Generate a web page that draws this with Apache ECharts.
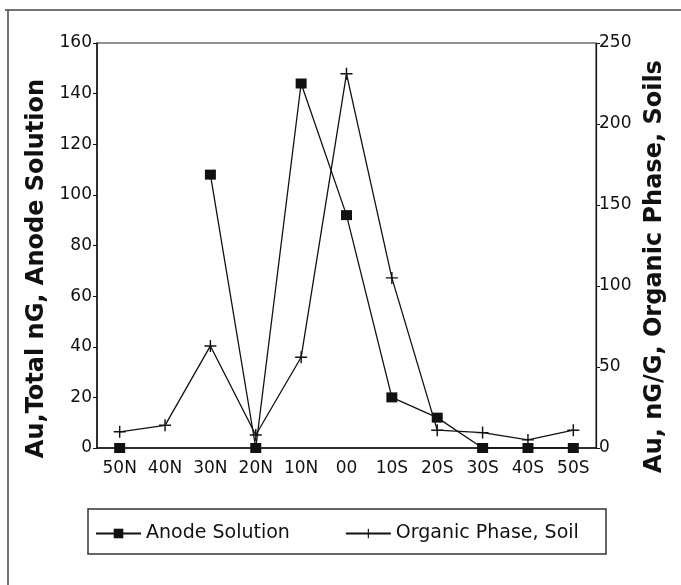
<!DOCTYPE html>
<html>
<head>
<meta charset="utf-8">
<script src="https://cdn.jsdelivr.net/npm/echarts@6/dist/echarts.min.js"></script>
<style>html,body{margin:0;padding:0;background:#fff}#c{width:681px;height:585px}</style>
</head>
<body>
<div id="c"></div>
<script>
const categories = ['50N','40N','30N','20N','10N','00','10S','20S','30S','40S','50S'];
const anodeSolution = [0, null, 108, 0, 144, 92, 20, 12, 0, 0, 0];
const organicPhaseSoil = [10, 14, 63, 8, 56, 231, 105, 11, 9.5, 5, 11];
const leftTicks = {min: 0, max: 160, interval: 20};
const rightTicks = {min: 0, max: 250, interval: 50};
const leftName = 'Au,Total nG, Anode Solution';
const rightName = 'Au, nG/G, Organic Phase, Soils';
const seriesNames = ['Anode Solution', 'Organic Phase, Soil'];

const FONT = '"DejaVu Sans", "Liberation Sans", Arial, sans-serif';
const plus = 'path://M0,4.4 L10,4.4 L10,5.6 L0,5.6 Z M4.4,0 L5.6,0 L5.6,10 L4.4,10 Z';
const chart = echarts.init(document.getElementById('c'), null, {renderer: 'canvas'});
chart.setOption({
  animation: false,
  backgroundColor: '#fff',
  textStyle: {fontFamily: FONT, color: '#111'},
  grid: {left: 97, right: 85, top: 43, bottom: 137, show: true, borderColor: '#222', borderWidth: 1},
  xAxis: {
    type: 'category', data: categories, boundaryGap: true,
    axisLine: {lineStyle: {color: '#111', width: 1.5}},
    axisTick: {alignWithLabel: true, length: 4, lineStyle: {color: '#111'}},
    axisLabel: {color: '#111', fontSize: 17, fontFamily: FONT, margin: 12}
  },
  yAxis: [{
    type: 'value', min: leftTicks.min, max: leftTicks.max, interval: leftTicks.interval,
    name: leftName, nameLocation: 'middle', nameRotate: 90, nameGap: 42,
    nameTextStyle: {fontSize: 24, fontWeight: 'bold', color: '#111', fontFamily: FONT, padding: [0, 46, 0, 0]},
    axisLine: {show: true, lineStyle: {color: '#111', width: 1.5}},
    axisTick: {show: true, length: 4, lineStyle: {color: '#111'}},
    axisLabel: {color: '#111', fontSize: 17, fontFamily: FONT, margin: 5},
    splitLine: {show: false}
  }, {
    type: 'value', position: 'right', min: rightTicks.min, max: rightTicks.max, interval: rightTicks.interval,
    name: rightName, nameLocation: 'middle', nameRotate: 90, nameGap: 42,
    nameTextStyle: {fontSize: 24, fontWeight: 'bold', color: '#111', fontFamily: FONT, padding: [0, 42, 0, 0]},
    axisLine: {show: true, lineStyle: {color: '#111', width: 1.2}},
    axisTick: {show: true, length: 4, lineStyle: {color: '#111'}},
    axisLabel: {color: '#111', fontSize: 17, fontFamily: FONT, margin: 3},
    splitLine: {show: false}
  }],
  legend: {
    left: 90, top: 519, itemWidth: 45, itemHeight: 12, itemGap: 55,
    textStyle: {fontSize: 19, color: '#111', fontFamily: FONT},
    data: seriesNames
  },
  graphic: [
    {type: 'rect', shape: {x: 88, y: 509, width: 518, height: 45}, style: {fill: 'none', stroke: '#333', lineWidth: 1.5}, silent: true},
    {type: 'line', shape: {x1: 5, y1: 10, x2: 681, y2: 10}, style: {stroke: '#444', lineWidth: 1.5}, silent: true},
    {type: 'line', shape: {x1: 8, y1: 10, x2: 8, y2: 585}, style: {stroke: '#444', lineWidth: 1.5}, silent: true}
  ],
  series: [{
    name: seriesNames[0], type: 'line', yAxisIndex: 0, data: anodeSolution, connectNulls: false,
    symbol: 'rect', symbolSize: [11, 10], showAllSymbol: true,
    lineStyle: {color: '#111', width: 1.3}, itemStyle: {color: '#111'}
  }, {
    name: seriesNames[1], type: 'line', yAxisIndex: 1, data: organicPhaseSoil,
    symbol: plus, symbolSize: 12, showAllSymbol: true,
    lineStyle: {color: '#111', width: 1.3}, itemStyle: {color: '#111'}
  }]
});
</script>
</body>
</html>
